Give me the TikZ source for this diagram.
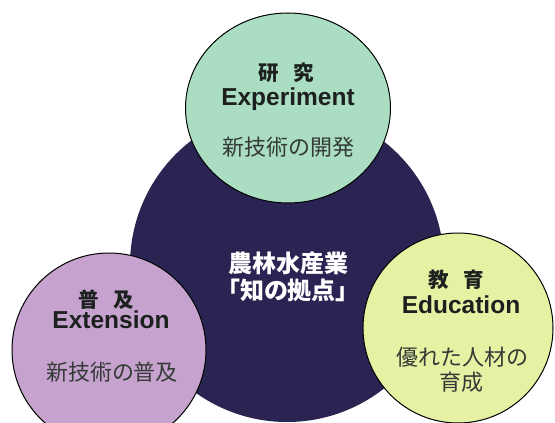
\documentclass[tikz,border=0pt]{standalone}
\usepackage{fontspec}
\setmainfont{Liberation Sans}
\newfontfamily\jp{Noto Sans CJK JP}
\usetikzlibrary{shapes.geometric}
\definecolor{hubc}{RGB}{42,36,82}
\definecolor{greenc}{RGB}{170,221,194}
\definecolor{purplec}{RGB}{198,162,206}
\definecolor{yellowc}{RGB}{230,241,163}
\definecolor{inkc}{RGB}{28,32,30}
\definecolor{greyink}{RGB}{52,58,54}
\tikzset{
  ball/.style={ellipse, draw=black, line width=1pt, inner sep=0pt},
  hubstyle/.style={circle, fill=hubc, inner sep=0pt, minimum size=314pt},
  entext/.style={anchor=base, text=inkc, font=\fontsize{24.5}{28}\selectfont\bfseries},
  jphead/.style={anchor=base, text=inkc, font=\jp\fontsize{20.5}{24}\selectfont\bfseries},
  jpbody/.style={anchor=base, text=greyink, font=\jp\fontsize{22}{25}\selectfont},
  jpcenter/.style={anchor=base, text=white, font=\jp\fontsize{24}{27}\selectfont\bfseries}
}
\begin{document}
\begin{tikzpicture}[x=1pt,y=-1pt]
\clip (0,0) rectangle (555,423);
\fill[white] (0,0) rectangle (555,423);
% central hub
\node[hubstyle] (hub) at (287,265) {};
% three satellite circles
\node[ball, fill=greenc, minimum width=205pt, minimum height=190pt] (res) at (288,108) {};
\node[ball, fill=purplec, minimum width=194pt, minimum height=194pt] (ext) at (109,350) {};
\node[ball, fill=yellowc, minimum width=190pt, minimum height=190pt] (edu) at (458,328) {};
% research
\node[jphead] (resA) at (286,80) {研\hspace{15pt}究};
\node[entext] (resB) at (288,105.5) {Experiment};
\node[jpbody] (resC) at (288,155) {新技術の開発};
% extension
\node[jphead] (extA) at (106,307.5) {普\hspace{15pt}及};
\node[entext] (extB) at (111,328) {Extension};
\node[jpbody] (extC) at (112,380.5) {新技術の普及};
% education
\node[jphead] (eduA) at (456,287.5) {教\hspace{15pt}育};
\node[entext] (eduB) at (461,313) {Education};
\node[jpbody] (eduC) at (462,365) {優れた人材の};
\node[jpbody] (eduD) at (461,390) {育成};
% center
\node[jpcenter] (hubA) at (288,272) {農林水産業};
\node[jpcenter] (hubB) at (288,299) {\addfontfeatures{RawFeature=+palt}「知の拠点」};
\end{tikzpicture}
\end{document}
